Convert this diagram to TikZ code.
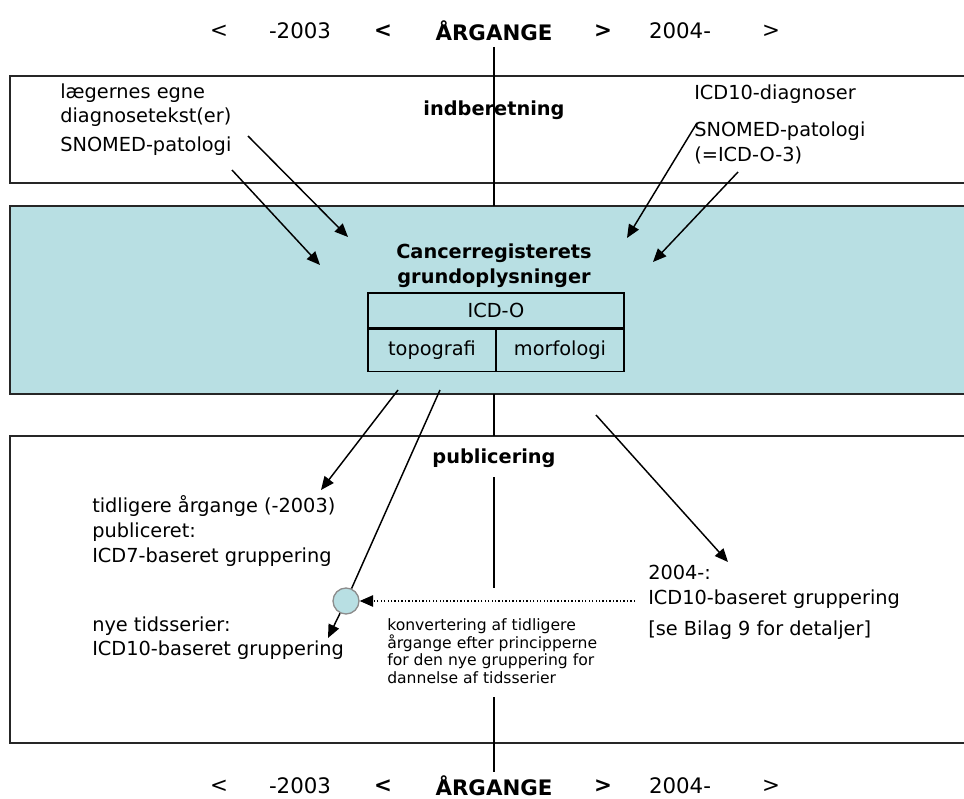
\documentclass[tikz,border=0pt]{standalone}
\usepackage{fontspec}
\setmainfont{DejaVu Sans}
\usetikzlibrary{arrows.meta}
\definecolor{regblue}{RGB}{184,223,227}
\tikzset{
  frame/.style={draw=black!85, line width=1.5pt},
  lbl/.style={anchor=west, align=left, inner sep=0pt, font=\fontsize{14.5}{18.4}\selectfont},
  head/.style={align=center, inner sep=0pt, font=\fontsize{14.5}{18.4}\selectfont\bfseries},
  yr/.style={inner sep=0pt, font=\fontsize{16}{19}\selectfont},
  yrb/.style={inner sep=0pt, font=\fontsize{16}{19}\selectfont\bfseries},
  cell/.style={draw, line width=1.1pt, inner sep=0pt, font=\fontsize{14.5}{17}\selectfont},
  arr/.style={-{Triangle[length=10pt,width=8.5pt]}, line width=1.1pt},
}
\begin{document}
\begin{tikzpicture}[x=0.75pt, y=-0.75pt]
  \useasboundingbox (0,0) rectangle (964,799);
  % boxes
  \draw[frame] (10,76) rectangle (970,183);
  \draw[frame, fill=regblue] (10,206) rectangle (970,394);
  \draw[frame] (10,436) rectangle (970,743);
  % centre line
  \draw[line width=0.8pt] (494,47) -- (494,206);
  \draw[line width=0.8pt] (494,394) -- (494,436);
  \draw[line width=0.8pt] (494,477) -- (494,588);
  \draw[line width=0.8pt] (494,697) -- (494,772);
  % year labels, top and bottom
  \foreach \y/\n in {31/t, 786/b} {
    \node[yr] (\n1) at (219,\y) {<};
    \node[yr] (\n2) at (300,\y) {-2003};
    \node[yrb] (\n3) at (383,\y) {<};
    \node[yrb] (\n4) at (494,\y) {ÅRGANGE};
    \node[yrb] (\n5) at (603,\y) {>};
    \node[yr] (\n6) at (680,\y) {2004-};
    \node[yr] (\n7) at (771,\y) {>};
  }
  % indberetning
  \node[head] (indb) at (494,110) {indberetning};
  \node[lbl] (egne) at (60,105) {lægernes egne\\diagnosetekst(er)};
  \node[lbl] (snol) at (60,146) {SNOMED-patologi};
  \node[lbl] (icd10) at (694,94) {ICD10-diagnoser};
  \node[lbl] (snor) at (694,143) {SNOMED-patologi\\(=ICD-O-3)};
  \coordinate (s1) at (248,136); \coordinate (e1) at (348,237);
  \coordinate (s2) at (232,170); \coordinate (e2) at (320,265);
  \coordinate (s3) at (697,123); \coordinate (e3) at (627,238);
  \coordinate (s4) at (738,172); \coordinate (e4) at (653,262);
  \draw[arr] (s1) -- (e1);
  \draw[arr] (s2) -- (e2);
  \draw[arr] (s3) -- (e3);
  \draw[arr] (s4) -- (e4);
  % grundoplysninger
  \node[head] (grund) at (494,266) {Cancerregisterets\\grundoplysninger};
  \node[cell, minimum width=192pt, minimum height=26pt] (icdo) at (496,310.5) {ICD-O};
  \node[cell, minimum width=96pt, minimum height=31.5pt, anchor=north west] (topo) at (icdo.south west) {topografi};
  \node[cell, minimum width=96pt, minimum height=31.5pt, anchor=north east] (morf) at (icdo.south east) {morfologi};
  % publicering
  \node[head] (publ) at (494,458) {publicering};
  \node[lbl] (tidl) at (92,531) {tidligere årgange (-2003)\\publiceret:\\ICD7-baseret gruppering};
  \node[lbl] (nye) at (92,638) {nye tidsserier:\\ICD10-baseret gruppering};
  \node[lbl] (ny04) at (648,587) {2004-:\\ICD10-baseret gruppering};
  \node[lbl] (bilag) at (648,630) {[se Bilag 9 for detaljer]};
  \node[lbl, font=\fontsize{11.7}{13.2}\selectfont] (konv) at (387,651)
    {konvertering af tidligere\\årgange efter principperne\\for den nye gruppering for\\dannelse af tidsserier};
  \node[circle, draw=black!45, fill=regblue, line width=1pt, minimum size=19.5pt, inner sep=0pt] (conv) at (346,601) {};
  \coordinate (b1) at (398,390); \coordinate (f1) at (321,490);
  \coordinate (b2) at (440,390); \coordinate (f2) at (328,638);
  \coordinate (b3) at (596,415); \coordinate (f3) at (728,562);
  \coordinate (dot) at (635,601);
  \draw[arr] (b1) -- (f1);
  \draw[line width=1.1pt] (b2) -- (conv);
  \draw[arr] (conv) -- (f2);
  \draw[arr] (b3) -- (f3);
  \draw[-{Triangle[length=10pt,width=8.5pt]}, line width=1pt, dash pattern=on 1pt off 1.6pt] (dot) -- (conv);
\end{tikzpicture}
\end{document}
